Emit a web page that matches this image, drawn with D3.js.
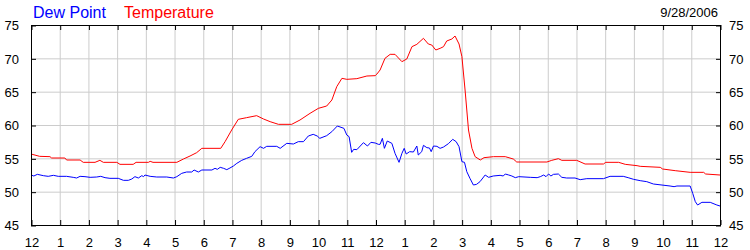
<!DOCTYPE html>
<html>
<head>
<meta charset="utf-8">
<script src="https://cdn.jsdelivr.net/npm/d3@7"></script>
<style>
  body { margin: 0; background: #fff; }
  text { font-family: 'Liberation Sans', Arial, sans-serif; }
</style>
</head>
<body>
<div id="chart"></div>
<script>
let dateLabel = '9/28/2006'
let seriesNames = ['Dew Point', 'Temperature']
let seriesColors = ['#0000ff', '#ff0000']

let hourLabels = ['12', '1', '2', '3', '4', '5', '6', '7', '8', '9', '10', '11',
  '12', '1', '2', '3', '4', '5', '6', '7', '8', '9', '10', '11', '12']
let degreeTicks = [45, 50, 55, 60, 65, 70, 75]

// temperature, hours after midnight
let tempHours = [0, 0.3, 0.66, 0.72, 1.18, 1.24, 1.71, 1.82, 2.23, 2.4, 2.52, 2.99,
  3.1, 3.56, 3.66, 4.09, 4.15, 4.25, 5.08, 5.31, 5.54, 5.77, 5.95, 6.61, 6.76,
  6.99, 7.22, 7.51, 7.86, 8.1, 8.33, 8.62, 9.08, 9.37, 9.72, 10.01, 10.3, 10.48,
  10.65, 10.83, 11.0, 11.35, 11.7, 11.99, 12.05, 12.16, 12.33, 12.51, 12.68,
  12.92, 13.09, 13.27, 13.44, 13.67, 13.84, 13.96, 14.1, 14.25, 14.37, 14.48,
  14.66, 14.77, 14.91, 15.01, 15.12, 15.24, 15.36, 15.47, 15.65, 15.78, 16.11,
  16.52, 16.8, 16.92, 17.97, 18.14, 18.37, 18.49, 19.01, 19.3, 19.94, 20.02,
  20.47, 20.7, 21.11, 21.22, 21.92, 22.0, 22.44, 22.96, 23.43, 23.5, 24]
let tempValues = [55.65, 55.3, 55.25, 55.05, 55.05, 54.75, 54.75, 54.4, 54.4, 54.7,
  54.4, 54.4, 54.1, 54.1, 54.4, 54.4, 54.55, 54.4, 54.4, 54.9, 55.35, 55.85, 56.5,
  56.5, 57.5, 59.25, 60.85, 61.1, 61.4, 60.9, 60.5, 60.1, 60.1, 60.75, 61.75, 62.5,
  62.85, 63.75, 65.75, 67.0, 66.85, 66.95, 67.35, 67.4, 67.65, 68.25, 70.0, 70.6,
  70.6, 69.5, 69.9, 71.75, 72.1, 73.0, 72.15, 72.0, 71.25, 71.5, 71.75, 72.6, 72.9,
  73.35, 72.15, 70.25, 65.25, 59.25, 56.5, 55.25, 54.75, 55.1, 55.25, 55.25, 54.9,
  54.45, 54.45, 54.7, 54.95, 54.7, 54.7, 54.15, 54.15, 54.4, 54.4, 54.1, 53.9, 53.8,
  53.65, 53.4, 53.15, 52.9, 52.9, 52.65, 52.5]

// dew point, hours after midnight
let dewHours = [0, 0.1, 0.22, 0.43, 0.6, 0.78, 0.95, 1.24, 1.47, 1.59, 1.71, 1.88,
  2.06, 2.29, 2.43, 2.58, 2.75, 3.04, 3.22, 3.39, 3.51, 3.62, 3.74, 3.86, 3.92,
  3.97, 4.15, 4.38, 4.73, 4.96, 5.08, 5.25, 5.42, 5.6, 5.68, 5.83, 5.95, 6.3, 6.41,
  6.49, 6.59, 6.71, 6.82, 6.93, 7.05, 7.17, 7.34, 7.51, 7.69, 7.8, 7.98, 8.1, 8.21,
  8.56, 8.68, 8.91, 9.14, 9.31, 9.49, 9.66, 9.83, 9.97, 10.06, 10.3, 10.48, 10.67,
  10.9, 11.0, 11.08, 11.17, 11.24, 11.35, 11.58, 11.72, 11.84, 11.99, 12.1, 12.16,
  12.24, 12.31, 12.41, 12.57, 12.68, 12.82, 12.92, 13.0, 13.07, 13.19, 13.32, 13.44,
  13.49, 13.61, 13.67, 13.79, 13.88, 13.94, 14.02, 14.14, 14.25, 14.37, 14.54, 14.69,
  14.81, 14.91, 15.01, 15.1, 15.18, 15.29, 15.41, 15.52, 15.64, 15.82, 15.94, 16.1,
  16.34, 16.45, 16.52, 16.64, 16.75, 16.87, 16.99, 17.39, 17.63, 17.74, 17.86, 17.94,
  18.03, 18.11, 18.2, 18.37, 18.49, 18.66, 18.95, 19.13, 19.36, 19.94, 20.17, 20.63,
  20.8, 20.99, 21.22, 21.45, 21.68, 22.26, 22.4, 22.5, 22.96, 23.05, 23.14, 23.22,
  23.37, 23.66, 23.89, 24]
let dewValues = [52.5, 52.35, 52.6, 52.4, 52.3, 52.45, 52.3, 52.3, 52.15, 52.05, 52.3,
  52.25, 52.15, 52.2, 52.3, 52.1, 52.0, 52.0, 51.7, 51.7, 51.9, 52.25, 52.05, 52.4,
  52.25, 52.5, 52.3, 52.2, 52.2, 52.05, 52.25, 52.75, 52.95, 52.95, 53.25, 52.95,
  53.25, 53.25, 53.5, 53.35, 53.65, 53.5, 53.3, 53.55, 53.85, 54.25, 54.7, 55.0, 55.3,
  56.0, 56.75, 56.5, 56.8, 56.8, 56.5, 57.25, 57.15, 57.5, 57.5, 58.35, 58.6, 58.35,
  58.0, 58.4, 59.0, 59.85, 59.5, 58.5, 58.25, 55.9, 56.35, 56.3, 57.35, 56.85, 57.4,
  57.3, 57.1, 57.1, 58.0, 56.5, 57.6, 57.25, 55.75, 54.4, 55.75, 56.5, 55.65, 56.0,
  55.95, 56.85, 55.5, 56.0, 56.95, 56.6, 56.55, 56.0, 56.85, 56.8, 56.5, 56.7, 57.2,
  57.85, 57.5, 56.75, 54.5, 54.4, 53.0, 52.0, 51.0, 51.1, 51.5, 52.5, 52.15, 52.35,
  52.45, 52.35, 52.65, 52.5, 52.35, 52.1, 52.25, 52.15, 52.1, 52.25, 52.5, 52.25,
  52.65, 52.35, 52.6, 52.65, 52.15, 52.05, 52.05, 51.8, 51.95, 51.95, 52.3, 52.3,
  52.1, 51.85, 51.65, 51.5, 51.15, 50.85, 50.75, 50.85, 50.85, 49.75, 48.5, 48.0,
  48.4, 48.4, 48.0, 47.85]

let margin = { top: 25, right: 30, bottom: 25, left: 31 }
let totalWidth = 750
let totalHeight = 250
let width = totalWidth - margin.left - margin.right
let height = totalHeight - margin.top - margin.bottom

let svg = d3.select('#chart')
  .append('svg')
  .attr('width', totalWidth)
  .attr('height', totalHeight)

let g = svg.append('g')
  .attr('transform', 'translate(' + margin.left + ',' + margin.top + ')')

let x = d3.scaleLinear().domain([0, 24]).range([0, width])
let y = d3.scaleLinear().domain([45, 75]).range([height, 0])
let hourTicks = d3.range(hourLabels.length)

// grid
g.append('g')
  .selectAll('line')
  .data(hourTicks)
  .enter().append('line')
  .attr('x1', (d) => x(d) + 0.5)
  .attr('x2', (d) => x(d) + 0.5)
  .attr('y1', 0)
  .attr('y2', height)
  .attr('stroke', '#cccccc')

g.append('g')
  .selectAll('line')
  .data(degreeTicks)
  .enter().append('line')
  .attr('x1', 0)
  .attr('x2', width)
  .attr('y1', (d) => y(d) + 0.5)
  .attr('y2', (d) => y(d) + 0.5)
  .attr('stroke', '#cccccc')

// series lines
let line = d3.line()
  .x((d) => x(d[0]))
  .y((d) => y(d[1]))

let dewData = dewHours.map((h, i) => [h, dewValues[i]])
let tempData = tempHours.map((h, i) => [h, tempValues[i]])

g.append('path')
  .datum(dewData)
  .attr('fill', 'none')
  .attr('stroke', seriesColors[0])
  .attr('stroke-width', 1)
  .attr('d', line)

g.append('path')
  .datum(tempData)
  .attr('fill', 'none')
  .attr('stroke', seriesColors[1])
  .attr('stroke-width', 1)
  .attr('d', line)

// frame
g.append('rect')
  .attr('x', 0.5)
  .attr('y', 0.5)
  .attr('width', width)
  .attr('height', height)
  .attr('fill', 'none')
  .attr('stroke', '#000')

// axes, ticks pointing inward
let styleAxis = (sel) => {
  sel.select('.domain').remove()
  sel.selectAll('.tick line').attr('stroke', '#000')
  sel.selectAll('.tick text')
    .attr('fill', '#000')
    .style('font-size', '13px')
    .style('font-family', "'Liberation Sans', Arial, sans-serif")
}

g.append('g')
  .attr('transform', 'translate(0.5,' + height + ')')
  .call(d3.axisBottom(x).tickValues(hourTicks).tickSize(-5).tickPadding(13)
    .tickFormat((d) => hourLabels[d]))
  .call(styleAxis)

g.append('g')
  .attr('transform', 'translate(0.5,0)')
  .call(d3.axisTop(x).tickValues(hourTicks).tickSize(-5).tickFormat(''))
  .call(styleAxis)

g.append('g')
  .attr('transform', 'translate(0,0.5)')
  .call(d3.axisLeft(y).tickValues(degreeTicks).tickSize(-5).tickPadding(12))
  .call(styleAxis)

g.append('g')
  .attr('transform', 'translate(' + (width + 1) + ',0.5)')
  .call(d3.axisRight(y).tickValues(degreeTicks).tickSize(-5).tickPadding(8))
  .call(styleAxis)

// legend and date
let legendX = [33, 124]
svg.selectAll('.legend')
  .data(seriesNames)
  .enter().append('text')
  .attr('class', 'legend')
  .attr('x', (d, i) => legendX[i])
  .attr('y', 18)
  .attr('fill', (d, i) => seriesColors[i])
  .style('font-size', '16px')
  .text((d) => d)

svg.append('text')
  .attr('x', 718)
  .attr('y', 17)
  .attr('text-anchor', 'end')
  .attr('fill', '#000')
  .style('font-size', '13px')
  .text(dateLabel)
</script>
</body>
</html>
